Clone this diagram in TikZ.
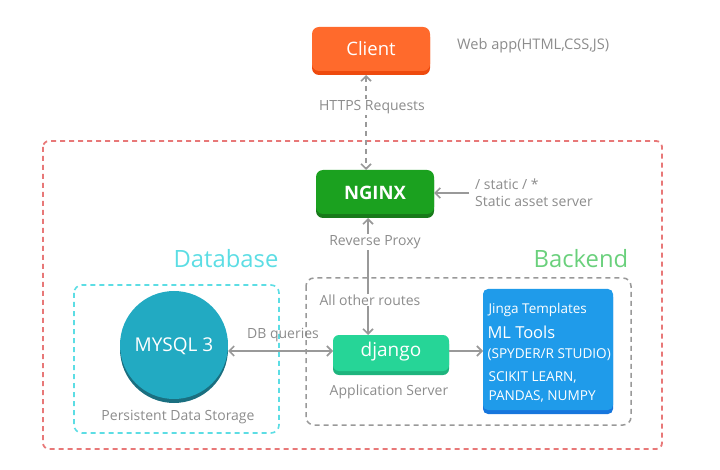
\documentclass[tikz,border=0pt]{standalone}
\usepackage{fontspec}
\setmainfont{Open Sans}
\usetikzlibrary{arrows.meta,shapes.geometric}
\definecolor{cOrange}{HTML}{FF6A2C}
\definecolor{cOrangeD}{HTML}{EE4A0E}
\definecolor{cGreen}{HTML}{1BA11F}
\definecolor{cGreenD}{HTML}{187A1A}
\definecolor{cTeal}{HTML}{26D597}
\definecolor{cTealD}{HTML}{1EB47D}
\definecolor{cBlue}{HTML}{1F9BEA}
\definecolor{cBlueD}{HTML}{1676DD}
\definecolor{cCyan}{HTML}{22AAC2}
\definecolor{cCyanD}{HTML}{1A6F80}
\definecolor{cRed}{HTML}{E87878}
\definecolor{cDB}{HTML}{5CDDE4}
\definecolor{cBack}{HTML}{6AD07C}
\definecolor{cGray}{HTML}{999999}
\definecolor{cTxt}{HTML}{8C8C8C}
\tikzset{
  x=1pt,y=-1pt,
  lbl/.style={text=cTxt,font=\fontsize{14}{17}\selectfont,inner sep=1pt},
  lblbg/.style={lbl,fill=white},
  conn/.style={draw=cGray,line width=1.6pt,{Straight Barb[length=5pt,width=10pt]}-{Straight Barb[length=5pt,width=10pt]}},
  conn1/.style={draw=cGray,line width=1.6pt,-{Straight Barb[length=5pt,width=10pt]}},
  boxtxt/.style={text=white,font=\fontsize{18.5}{22}\selectfont},
  mltxt/.style={text=white,anchor=west,font=\fontsize{13.6}{16}\selectfont},
}
\begin{document}
\begin{tikzpicture}
\useasboundingbox (0,0) rectangle (720,470);
% outer red dashed
\draw[cRed,line width=1.8pt,dash pattern=on 5pt off 4pt,rounded corners=6pt] (43,141) rectangle (662,449);
% database box
\draw[cDB,line width=1.6pt,dash pattern=on 5pt off 4pt,rounded corners=8pt] (74,285) rectangle (279,433);
% backend box
\draw[cGray,line width=1.5pt,dash pattern=on 5pt off 4pt,rounded corners=8pt] (306,278) rectangle (631,425);
\node[text=cDB,font=\fontsize{23.8}{27}\selectfont,anchor=center] (dbt) at (226,259) {Database};
\node[text=cBack,font=\fontsize{23.8}{27}\selectfont,anchor=center] (bet) at (581,259) {Backend};
% client
\fill[cOrangeD,rounded corners=7pt] (312,30) rectangle (430,75);
\fill[cOrange,rounded corners=7pt] (312,27) rectangle (430,71);
\node[boxtxt,minimum width=118pt,minimum height=44pt] (client) at (371,49) {Client};
\node[lbl,anchor=west,font=\fontsize{14.6}{17}\selectfont] (web) at (456,46) {Web app(HTML,CSS,JS)};
% nginx
\fill[cGreenD,rounded corners=7pt] (316,173) rectangle (434,218);
\fill[cGreen,rounded corners=7pt] (316,170) rectangle (434,214);
\node[boxtxt,font=\bfseries\fontsize{18.5}{22}\selectfont,minimum width=118pt,minimum height=44pt] (nginx) at (375,193) {NGINX};
\node[lbl,anchor=west,align=left] (stat) at (474,193) {/ static / *\\Static asset server};
% django
\fill[cTealD,rounded corners=6pt] (333,338) rectangle (449,375);
\fill[cTeal,rounded corners=6pt] (333,335) rectangle (449,371);
\node[boxtxt,font=\fontsize{19}{22}\selectfont,minimum width=116pt,minimum height=36pt] (django) at (391,352) {django};
\node[lbl] (appsrv) at (389,392) {Application Server};
% ML box
\fill[cBlueD,rounded corners=5pt] (483,292) rectangle (613,414);
\fill[cBlue,rounded corners=5pt] (483,289) rectangle (613,410);
\node[mltxt,font=\fontsize{13.5}{16}\selectfont] (jinga) at (485,310) {Jinga Templates};
\node[mltxt,font=\fontsize{16.5}{19}\selectfont] (mlt) at (484,332) {ML Tools};
\node[mltxt] (spy) at (484,355) {(SPYDER/R STUDIO)};
\node[mltxt] (sci) at (485,377) {SCIKIT LEARN,};
\node[mltxt] (pan) at (485,396) {PANDAS, NUMPY};
\node[minimum width=130pt,minimum height=121pt,inner sep=0pt] (ml) at (548,349.5) {};
% mysql
\fill[cCyanD] (174,349) circle (54);
\fill[cCyan] (174,345) circle (54);
\node[text=white,font=\fontsize{19}{22}\selectfont,circle,minimum size=108pt,inner sep=0pt] (mysql) at (174,346) {MYSQL 3};
\node[lbl] (pds) at (178,417) {Persistent Data Storage};
% connectors
\coordinate (cb) at (366,75);
\coordinate (nt) at (366,170);
\draw[conn,dash pattern=on 5pt off 4pt] (cb) -- (nt);
\node[lblbg] (https) at (372,107) {HTTPS Requests};
\coordinate (ssrc) at (469,193);
\draw[conn1] (ssrc) -- (nginx.east);
\coordinate (nb) at (368,218);
\coordinate (dt) at (368,335);
\draw[conn] (nb) -- (dt);
\node[lblbg] (rp) at (375,242) {Reverse Proxy};
\node[lblbg] (aor) at (370,300) {All other routes};
\coordinate (mr) at (228,351);
\coordinate (dl) at (333,351);
\draw[conn] (mr) -- (dl);
\node[lbl] (dbq) at (283,335) {DB queries};
\coordinate (dr) at (449,351);
\coordinate (ml1) at (483,351);
\draw[conn1] (dr) -- (ml1);
\end{tikzpicture}
\end{document}
